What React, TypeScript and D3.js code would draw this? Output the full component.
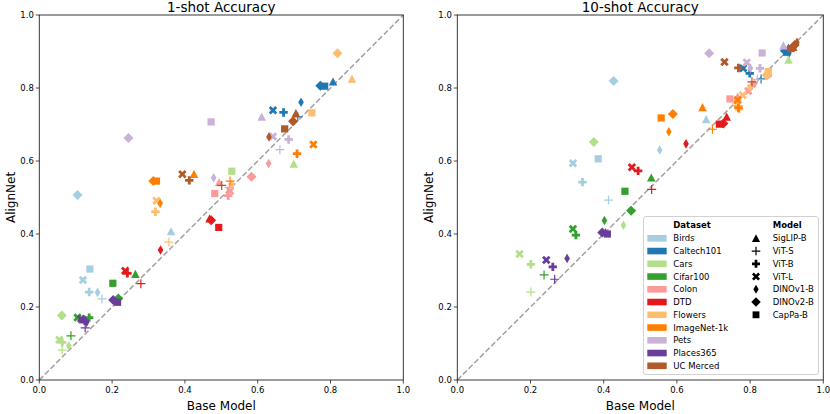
import * as d3 from 'd3';

const datasets = ['Birds', 'Caltech101', 'Cars', 'Cifar100', 'Colon', 'DTD', 'Flowers', 'ImageNet-1k', 'Pets', 'Places365', 'UC Merced'];
const models = ['SigLIP-B', 'ViT-S', 'ViT-B', 'ViT-L', 'DINOv1-B', 'DINOv2-B', 'CapPa-B'];
const colors = ['#a6cee3', '#1f78b4', '#b2df8a', '#33a02c', '#fb9a99', '#e31a1c', '#fdbf6f', '#ff7f00', '#cab2d6', '#6a3d9a', '#b15928'];
const ticks = [0, 0.2, 0.4, 0.6, 0.8, 1.0];

// [base model, alignnet] for each dataset, models in the order above
const oneShot = [
  [[0.362, 0.407], [0.172, 0.222], [0.137, 0.241], [0.120, 0.274], [0.160, 0.240], [0.105, 0.507], [0.139, 0.304]],
  [[0.807, 0.817], [0.710, 0.721], [0.671, 0.733], [0.642, 0.739], [0.719, 0.761], [0.772, 0.806], [0.784, 0.805]],
  [[0.699, 0.592], [0.063, 0.082], [0.063, 0.103], [0.055, 0.110], [0.081, 0.094], [0.062, 0.177], [0.529, 0.572]],
  [[0.264, 0.290], [0.087, 0.121], [0.137, 0.171], [0.105, 0.171], [0.125, 0.165], [0.217, 0.223], [0.202, 0.265]],
  [[0.494, 0.541], [0.522, 0.528], [0.519, 0.505], [0.524, 0.518], [0.630, 0.593], [0.583, 0.557], [0.482, 0.511]],
  [[0.468, 0.442], [0.279, 0.264], [0.242, 0.292], [0.236, 0.299], [0.333, 0.356], [0.472, 0.438], [0.493, 0.418]],
  [[0.859, 0.825], [0.356, 0.378], [0.319, 0.461], [0.322, 0.491], [0.529, 0.536], [0.819, 0.895], [0.749, 0.732]],
  [[0.425, 0.564], [0.524, 0.545], [0.708, 0.620], [0.753, 0.645], [0.332, 0.484], [0.313, 0.545], [0.322, 0.545]],
  [[0.611, 0.721], [0.661, 0.631], [0.685, 0.659], [0.642, 0.667], [0.479, 0.554], [0.245, 0.663], [0.472, 0.707]],
  [[0.120, 0.165], [0.126, 0.143], [0.125, 0.162], [0.115, 0.168], [0.130, 0.158], [0.203, 0.219], [0.215, 0.213]],
  [[0.705, 0.731], [0.501, 0.533], [0.412, 0.547], [0.393, 0.564], [0.631, 0.666], [0.697, 0.709], [0.674, 0.688]],
];

const tenShot = [
  [[0.680, 0.714], [0.413, 0.493], [0.342, 0.542], [0.316, 0.594], [0.553, 0.630], [0.427, 0.819], [0.385, 0.606]],
  [[0.905, 0.910], [0.830, 0.825], [0.799, 0.840], [0.781, 0.854], [0.906, 0.895], [0.895, 0.902], [0.900, 0.898]],
  [[0.905, 0.877], [0.201, 0.241], [0.201, 0.317], [0.170, 0.345], [0.454, 0.424], [0.373, 0.652], [0.849, 0.838]],
  [[0.530, 0.554], [0.237, 0.288], [0.324, 0.397], [0.316, 0.414], [0.402, 0.437], [0.475, 0.464], [0.458, 0.517]],
  [[0.766, 0.776], [0.768, 0.752], [0.804, 0.806], [0.795, 0.792], [0.812, 0.812], [0.848, 0.836], [0.745, 0.770]],
  [[0.736, 0.721], [0.531, 0.522], [0.494, 0.573], [0.477, 0.583], [0.625, 0.647], [0.727, 0.703], [0.716, 0.701]],
  [[0.762, 0.765], [0.765, 0.750], [0.770, 0.742], [0.780, 0.780], [0.800, 0.800], [0.845, 0.835], [0.850, 0.845]],
  [[0.670, 0.747], [0.697, 0.687], [0.768, 0.746], [0.766, 0.767], [0.578, 0.680], [0.589, 0.729], [0.557, 0.718]],
  [[0.891, 0.916], [0.820, 0.824], [0.827, 0.854], [0.791, 0.870], [0.801, 0.854], [0.688, 0.895], [0.833, 0.896]],
  [[0.405, 0.405], [0.266, 0.276], [0.261, 0.310], [0.243, 0.329], [0.300, 0.333], [0.396, 0.404], [0.410, 0.400]],
  [[0.918, 0.912], [0.805, 0.817], [0.768, 0.855], [0.730, 0.871], [0.928, 0.925], [0.922, 0.918], [0.912, 0.908]],
];

const font = 'DejaVu Sans, sans-serif';

function poly(pts: number[][]) {
  return 'M' + pts.map((p) => p[0].toFixed(2) + ',' + p[1].toFixed(2)).join('L') + 'Z';
}

function plusPts(r: number, w: number) {
  return [[-w, -r], [w, -r], [w, -w], [r, -w], [r, w], [w, w], [w, r], [-w, r], [-w, w], [-r, w], [-r, -w], [-w, -w]];
}

// marker shape per model index
function markerPath(m: number, k = 1) {
  if (m === 0) return poly([[0, -4.3 * k], [-4.3 * k, 3.8 * k], [4.3 * k, 3.8 * k]]);
  if (m === 1) return `M${-4.5 * k},0H${4.5 * k}M0,${-4.5 * k}V${4.5 * k}`;
  if (m === 2) return poly(plusPts(4.2 * k, 1.4 * k));
  if (m === 3) {
    const c = Math.SQRT1_2;
    return poly(plusPts(4.6 * k, 1.4 * k).map(([x, y]) => [(x - y) * c, (x + y) * c]));
  }
  if (m === 4) return poly([[0, -4.8 * k], [2.8 * k, 0], [0, 4.8 * k], [-2.8 * k, 0]]);
  if (m === 5) return poly([[0, -5 * k], [5 * k, 0], [0, 5 * k], [-5 * k, 0]]);
  return poly([[-3.6 * k, -3.6 * k], [3.6 * k, -3.6 * k], [3.6 * k, 3.6 * k], [-3.6 * k, 3.6 * k]]);
}

function Marker({ m, color, x, y, k = 1 }: { m: number; color: string; x: number; y: number; k?: number }) {
  const d = markerPath(m, k);
  if (m === 1) return <path d={d} transform={`translate(${x},${y})`} stroke={color} strokeWidth={1.2} fill="none" />;
  return <path d={d} transform={`translate(${x},${y})`} fill={color} />;
}

const yScale = d3.scaleLinear().domain([0, 1]).range([380, 15]);

function Panel({ title, data, x0, x1 }: { title: string; data: number[][][]; x0: number; x1: number }) {
  const x = d3.scaleLinear().domain([0, 1]).range([x0, x1]);
  const y = yScale;
  const cx = (x0 + x1) / 2;
  return (
    <g>
      <line x1={x(0)} y1={y(0)} x2={x(1)} y2={y(1)} stroke="#a0a0a0" strokeWidth={1.5} strokeDasharray="5.5,2.5" />
      {data.map((row, di) =>
        row.map((p, mi) => <Marker key={`${di}-${mi}`} m={mi} color={colors[di]} x={x(p[0])} y={y(p[1])} />)
      )}
      <rect x={x0} y={y(1)} width={x1 - x0} height={y(0) - y(1)} fill="none" stroke="#222" strokeWidth={0.9} />
      {ticks.map((t) => (
        <g key={t}>
          <line x1={x(t)} x2={x(t)} y1={y(0)} y2={y(0) + 3.5} stroke="#222" strokeWidth={0.8} />
          <text x={x(t)} y={y(0) + 12.5} textAnchor="middle" fontSize={8.5} fontFamily={font}>{t.toFixed(1)}</text>
          <line x1={x0 - 3.5} x2={x0} y1={y(t)} y2={y(t)} stroke="#222" strokeWidth={0.8} />
          <text x={x0 - 5.5} y={y(t) + 3} textAnchor="end" fontSize={8.5} fontFamily={font}>{t.toFixed(1)}</text>
        </g>
      ))}
      <text x={cx} y={12} textAnchor="middle" fontSize={13.5} fontFamily={font}>{title}</text>
      <text x={cx} y={410} textAnchor="middle" fontSize={12} fontFamily={font}>Base Model</text>
      <text transform={`translate(${x0 - 24},${(y(0) + y(1)) / 2}) rotate(-90)`} textAnchor="middle" fontSize={12} fontFamily={font}>AlignNet</text>
    </g>
  );
}

function Legend() {
  const rowY = (i: number) => 238.3 + i * 12.75;
  return (
    <g fontFamily={font} fontSize={8.5}>
      <rect x={643.5} y={216.5} width={175} height={158} rx={2.5} fill="white" fillOpacity={0.85} stroke="#cccccc" strokeWidth={0.9} />
      <text x={673.3} y={228} fontWeight="bold">Dataset</text>
      <text x={772.7} y={228} fontWeight="bold">Model</text>
      {datasets.map((d, i) => (
        <g key={d}>
          <rect x={647.3} y={rowY(i) - 3.3} width={19.4} height={6.6} fill={colors[i]} />
          <text x={673.3} y={rowY(i) + 3}>{d}</text>
        </g>
      ))}
      {models.map((m, i) => (
        <g key={m}>
          <Marker m={i} color="black" x={756} y={rowY(i)} k={0.95} />
          <text x={772.7} y={rowY(i) + 3}>{m}</text>
        </g>
      ))}
    </g>
  );
}

export default function App() {
  return (
    <svg width={830} height={414} style={{ position: 'absolute', left: 0, top: 0, background: 'white' }}>
      <Panel title="1-shot Accuracy" data={oneShot} x0={39.3} x1={403.3} />
      <Panel title="10-shot Accuracy" data={tenShot} x0={457.3} x1={823.3} />
      <Legend />
    </svg>
  );
}
